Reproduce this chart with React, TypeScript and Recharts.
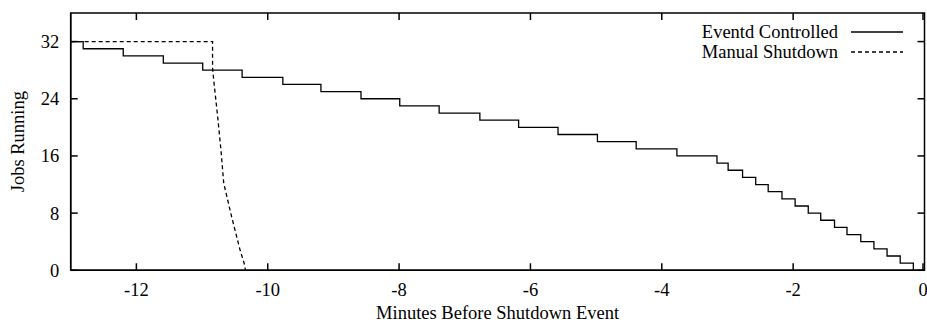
import { LineChart, Line, XAxis, YAxis, Legend, ReferenceArea } from "recharts";

const FONT = '"Liberation Serif", "Times New Roman", serif';
const FS = 18.5;

const xTicks = [-12, -10, -8, -6, -4, -2, 0];
const yTicks = [0, 8, 16, 24, 32];

// Eventd Controlled: one job stops at each step
const eventdMinutes = [
  -13, -12.81, -12.2, -11.59, -10.99, -10.39, -9.77, -9.19, -8.58, -7.99, -7.39,
  -6.77, -6.18, -5.58, -4.98, -4.39, -3.77, -3.16, -2.99, -2.77, -2.57, -2.38,
  -2.17, -1.97, -1.77, -1.58, -1.37, -1.18, -0.97, -0.77, -0.57, -0.37, -0.17,
];
const eventdJobs = [
  32, 31, 30, 29, 28, 27, 26, 25, 24, 23, 22, 21, 20, 19, 18, 17, 16, 15, 14, 13,
  12, 11, 10, 9, 8, 7, 6, 5, 4, 3, 2, 1, 0,
];

// Manual Shutdown: everything killed in about half a minute
const manualMinutes = [-13, -10.84, -10.84, -10.82, -10.76, -10.71, -10.67, -10.55, -10.42, -10.35, -10.34];
const manualJobs = [32, 32, 28.3, 26.4, 21.3, 16.6, 12.2, 7.5, 2.8, 0.7, 0];

const eventdData = eventdMinutes.map((x, i) => ({ x, jobs: eventdJobs[i] }));
const manualData = manualMinutes.map((x, i) => ({ x, jobs: manualJobs[i] }));

const series = [
  { name: "Eventd Controlled", dash: undefined as string | undefined },
  { name: "Manual Shutdown", dash: "4 3" },
];

// chart frame (gnuplot style box with inward ticks on all four sides)
const W = 927;
const H = 324;
const M = { top: 13, right: 2.5, bottom: 0, left: 0 };
const Y_AXIS_W = 70.7;
const X_AXIS_H = 53.7;
const PLOT_LEFT = M.left + Y_AXIS_W;
const PLOT_RIGHT = W - M.right;
const PLOT_TOP = M.top;
const PLOT_BOTTOM = H - M.bottom - X_AXIS_H;
const TICK = 7;
const FRAME_W = 1.5;

const textStyle = { fontSize: FS, fill: "#000", fontFamily: FONT };

function XTick(props: any) {
  const { x, payload } = props;
  return (
    <g>
      <line x1={x} x2={x} y1={PLOT_BOTTOM} y2={PLOT_BOTTOM - TICK} stroke="#000" strokeWidth={FRAME_W} />
      <line x1={x} x2={x} y1={PLOT_TOP} y2={PLOT_TOP + TICK} stroke="#000" strokeWidth={FRAME_W} />
      <text x={x} y={PLOT_BOTTOM + 26} textAnchor="middle" style={textStyle}>
        {payload.value}
      </text>
    </g>
  );
}

function YTick(props: any) {
  const { y, payload } = props;
  return (
    <g>
      <line x1={PLOT_LEFT} x2={PLOT_LEFT + TICK} y1={y} y2={y} stroke="#000" strokeWidth={FRAME_W} />
      <line x1={PLOT_RIGHT} x2={PLOT_RIGHT - TICK} y1={y} y2={y} stroke="#000" strokeWidth={FRAME_W} />
      <text x={PLOT_LEFT - 11.4} y={y} dy="0.35em" textAnchor="end" style={textStyle}>
        {payload.value}
      </text>
    </g>
  );
}

function LegendBox() {
  return (
    <div style={{ fontFamily: FONT, fontSize: FS, color: "#000" }}>
      {series.map((s) => (
        <div key={s.name} style={{ display: "flex", alignItems: "center", justifyContent: "flex-end", height: 20 }}>
          <span>{s.name}</span>
          <svg width={52} height={20} style={{ marginLeft: 13 }}>
            <line x1={0} y1={10} x2={52} y2={10} stroke="#000" strokeWidth={1.3} strokeDasharray={s.dash} />
          </svg>
        </div>
      ))}
    </div>
  );
}

export default function App() {
  return (
    <div style={{ position: "absolute", left: 0, top: 0, background: "#fff" }}>
      <LineChart width={W} height={H} margin={M}>
        <ReferenceArea x1={-13} x2={0} y1={0} y2={36} fill="none" stroke="#000" strokeWidth={FRAME_W} ifOverflow="visible" />
        <XAxis
          dataKey="x"
          type="number"
          domain={[-13, 0]}
          ticks={xTicks}
          allowDataOverflow
          height={X_AXIS_H}
          stroke="#000"
          strokeWidth={FRAME_W}
          tickLine={false}
          tick={<XTick />}
          label={{
            value: "Minutes Before Shutdown Event",
            position: "insideBottom",
            offset: 5,
            style: textStyle,
          }}
        />
        <YAxis
          dataKey="jobs"
          type="number"
          domain={[0, 36]}
          ticks={yTicks}
          allowDataOverflow
          width={Y_AXIS_W}
          stroke="#000"
          strokeWidth={FRAME_W}
          tickLine={false}
          tick={<YTick />}
          label={{
            content: (props: any) => {
              const vb = props.viewBox || {};
              const cx = (vb.x || 0) + 18.5;
              const cy = (vb.y || 0) + (vb.height || 0) / 2;
              return (
                <text
                  x={cx}
                  y={cy}
                  transform={`rotate(-90 ${cx} ${cy})`}
                  textAnchor="middle"
                  dominantBaseline="central"
                  style={textStyle}
                >
                  Jobs Running
                </text>
              );
            },
          }}
        />
        <Legend
          layout="horizontal"
          align="center"
          verticalAlign="middle"
          content={() => <LegendBox />}
          wrapperStyle={{ top: 22, right: 24, left: "auto", bottom: "auto", width: "auto" }}
        />
        <Line
          data={eventdData}
          dataKey="jobs"
          name="Eventd Controlled"
          type="stepAfter"
          stroke="#000"
          strokeWidth={1.3}
          dot={false}
          isAnimationActive={false}
        />
        <Line
          data={manualData}
          dataKey="jobs"
          name="Manual Shutdown"
          type="linear"
          stroke="#000"
          strokeWidth={1.3}
          strokeDasharray="4 3"
          dot={false}
          isAnimationActive={false}
        />
      </LineChart>
    </div>
  );
}
